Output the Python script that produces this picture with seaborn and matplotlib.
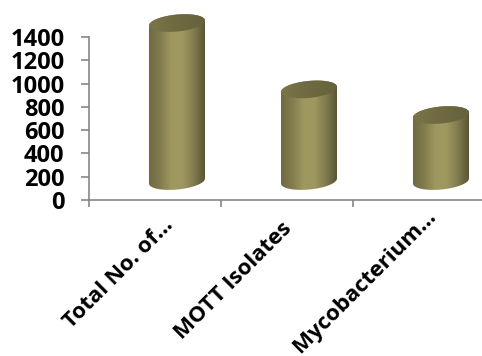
import matplotlib.pyplot as plt
import numpy as np
import pandas as pd
import seaborn as sns
from matplotlib.colors import LinearSegmentedColormap
from matplotlib.path import Path
from matplotlib.patches import PathPatch
from matplotlib.transforms import ScaledTranslation

categories = ["Total No. of…", "MOTT Isolates", "Mycobacterium…"]
values = [1520, 950, 730]
yticks = [0, 200, 400, 600, 800, 1000, 1200, 1400]

sns.set_theme(style="white")
plt.rcParams["font.family"] = ["Open Sans", "DejaVu Sans"]

GREY = "#868686"
px_x = 1 / 132           # data units per pixel
px_y = 1718 / 200
floor = 163              # cylinders float above the axis (3d depth)
depth_shift = 22 * px_x
half_h = 8.5 * px_y      # ellipse half height
shear = 2.5 * px_y       # right side of the ellipse sits higher
label_dx = [8, -6, 6]    # px, labels are not placed evenly in the original
label_dy = [2, -1, 11]

body_cmap = LinearSegmentedColormap.from_list(
    "body", ["#6f6a42", "#827c4e", "#9f9760", "#a09860", "#827c4e", "#5a5635"])
top_cmap = LinearSegmentedColormap.from_list(
    "top", ["#7a7549", "#6e6941", "#66623c"])

df = pd.DataFrame({"category": categories, "value": values})

fig = plt.figure(figsize=(4.82, 3.56), dpi=100)
ax = fig.add_axes([89 / 482, 1 - 200 / 356, 396 / 482, 200 / 356])
ax.patch.set_alpha(0)

sns.barplot(data=df, x="category", y="value", color="#9f9760", width=56 / 132,
    order=categories, ax=ax)


def ellipse(cx, cy, a, t):
    return np.column_stack([cx + a * np.cos(t), cy + half_h * np.sin(t) + shear * np.cos(t)])


def gradient(cmap, extent, clip):
    im = ax.imshow(np.linspace(0, 1, 128)[None, :], cmap=cmap, extent=extent,
        aspect="auto", origin="lower", zorder=3)
    im.set_clip_path(clip)


for bar in list(ax.patches):
    a = bar.get_width() / 2
    cx = bar.get_x() + a + depth_shift
    top = bar.get_height()
    bar.set_visible(False)

    # silhouette: lower half of the base, upper half of the lid
    t_low = np.linspace(np.pi, 2 * np.pi, 60)
    t_up = np.linspace(0, np.pi, 60)
    verts = np.vstack([ellipse(cx, floor, a, t_low), ellipse(cx, top, a, t_up)])
    body = PathPatch(Path(np.vstack([verts, verts[0]])), fc="none", ec="none",
        transform=ax.transData)
    ax.add_patch(body)
    gradient(body_cmap, (cx - a, cx + a, 0, 1718), body)

    lid_pts = ellipse(cx, top, a, np.linspace(0, 2 * np.pi, 120))
    lid = PathPatch(Path(lid_pts), fc="none", ec="none", transform=ax.transData)
    ax.add_patch(lid)
    gradient(top_cmap, (cx - a, cx + a, 0, 1718), lid)

ax.set_xlim(-0.5, 2.5)
ax.set_ylim(0, 1718)

for side in ["top", "right"]:
    ax.spines[side].set_visible(False)
for side in ["left", "bottom"]:
    ax.spines[side].set_color(GREY)
    ax.spines[side].set_linewidth(1.2)
ax.spines["left"].set_bounds(0, 1400)

ax.set_xlabel("")
ax.set_ylabel("")
ax.set_yticks(yticks)
ax.set_yticklabels([str(v) for v in yticks], fontsize=17, fontweight="bold", color="black")
ax.tick_params(axis="y", length=5.8, width=1.2, color=GREY, pad=12, left=True)

# ticks sit between the categories, labels under the centres
ax.set_xticks([-0.5, 0.5, 1.5, 2.5])
ax.set_xticklabels([])
ax.tick_params(axis="x", which="major", length=5, width=1.2, color=GREY, bottom=True)
ax.set_xticks([0, 1, 2], minor=True)
ax.set_xticklabels(categories, minor=True, rotation=45, ha="right", va="top",
    rotation_mode="anchor", fontsize=16, fontweight="bold", color="black")
ax.tick_params(axis="x", which="minor", length=0, pad=12)
for lab, dx, dy in zip(ax.get_xticklabels(minor=True), label_dx, label_dy):
    lab.set_transform(lab.get_transform() + ScaledTranslation(dx / 100, dy / 100, fig.dpi_scale_trans))

fig.savefig("out.png", dpi=100)
